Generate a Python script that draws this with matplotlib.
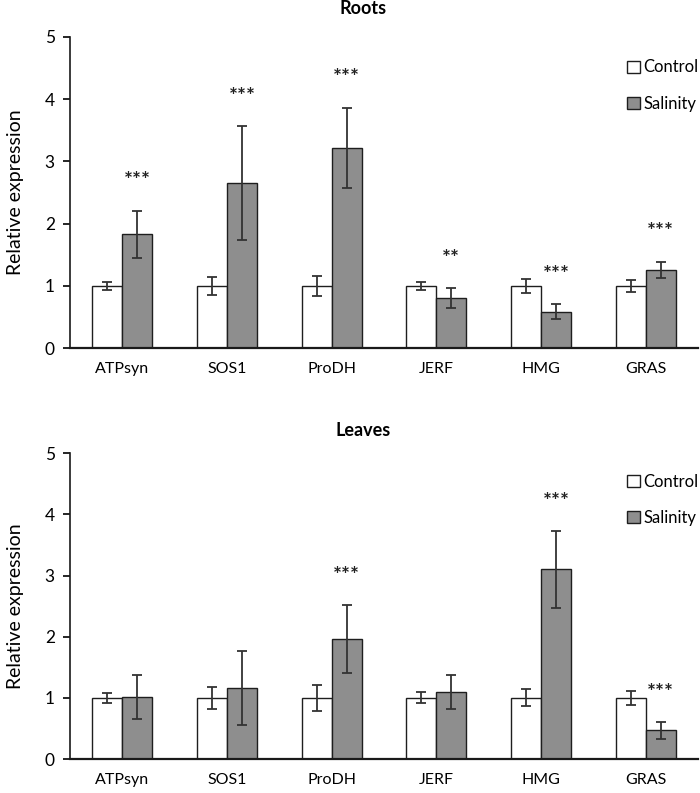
import matplotlib
matplotlib.use("Agg")
import matplotlib.pyplot as plt
from matplotlib.patches import Patch
import numpy as np

plt.rcParams['font.family'] = ['Lato', 'DejaVu Sans']

genes = ["ATPsyn", "SOS1", "ProDH", "JERF", "HMG", "GRAS"]

roots_control = [1.00, 1.00, 1.00, 1.00, 1.00, 1.00]
roots_control_err = [0.06, 0.15, 0.16, 0.07, 0.11, 0.09]
roots_salinity = [1.83, 2.65, 3.22, 0.81, 0.59, 1.26]
roots_salinity_err = [0.38, 0.92, 0.64, 0.16, 0.12, 0.13]
roots_stars = ["***", "***", "***", "**", "***", "***"]

leaves_control = [1.00, 1.00, 1.00, 1.00, 1.00, 1.00]
leaves_control_err = [0.08, 0.18, 0.21, 0.09, 0.14, 0.12]
leaves_salinity = [1.02, 1.16, 1.96, 1.10, 3.10, 0.47]
leaves_salinity_err = [0.36, 0.61, 0.56, 0.28, 0.63, 0.14]
leaves_stars = ["", "", "***", "", "***", "***"]

titles = ["Roots", "Leaves"]
legend_labels = ["Control", "Salinity"]

W, H = 700, 793
fig = plt.figure(figsize=(W / 100, H / 100), dpi=100)

def px_rect(x0, x1, ytop, ybot):
    return [x0 / W, 1 - ybot / H, (x1 - x0) / W, (ybot - ytop) / H]

ax_top = fig.add_axes(px_rect(70, 698, 36.7, 348.3))
ax_bot = fig.add_axes(px_rect(70, 698, 453.3, 759))

sal_color = "#8e8e8e"
edge = "#1e1e1e"
err_color = "#333333"
bw = 0.287

panels = [
    (ax_top, roots_control, roots_control_err, roots_salinity, roots_salinity_err, roots_stars, titles[0], 9, 85.5),
    (ax_bot, leaves_control, leaves_control_err, leaves_salinity, leaves_salinity_err, leaves_stars, titles[1], 431, 500),
]

x = np.arange(len(genes))
for ax, c, ce, s, se, stars, title, ty, legy in panels:
    ax.bar(x - bw / 2, c, bw, yerr=ce, color="white", edgecolor=edge, linewidth=1.0,
           error_kw=dict(ecolor=err_color, elinewidth=1.3, capsize=3.5, capthick=1.3), zorder=2)
    ax.bar(x + bw / 2, s, bw, yerr=se, color=sal_color, edgecolor=edge, linewidth=1.0,
           error_kw=dict(ecolor=err_color, elinewidth=1.3, capsize=3.5, capthick=1.3), zorder=2)
    for i, st in enumerate(stars):
        if st:
            ax.text(x[i] + bw / 2, s[i] + se[i] + 0.47, st, ha="center", va="center",
                    fontsize=15, fontweight="bold", color="#222222")
    ax.set_xlim(-0.5, len(genes) - 0.5)
    ax.set_ylim(0, 5)
    ax.set_yticks([0, 1, 2, 3, 4, 5])
    ax.set_xticks(x)
    ax.set_xticklabels(genes, fontsize=11.5)
    ax.tick_params(axis="x", length=0, pad=10)
    ax.tick_params(axis="y", direction="out", length=5, width=1.2, labelsize=12.5, pad=6)
    for sp in ["top", "right"]:
        ax.spines[sp].set_visible(False)
    ax.spines["left"].set_linewidth(1.2)
    ax.spines["bottom"].set_linewidth(1.6)
    ax.spines["left"].set_color("#1a1a1a")
    ax.spines["bottom"].set_color("#1a1a1a")
    ax.set_ylabel("Relative expression", fontsize=14, va="center")
    ax.yaxis.set_label_coords(-0.087, 0.5)
    fig.text(363 / W, 1 - ty / H, title, ha="center", va="center", fontsize=13, fontweight="bold")
    handles = [Patch(facecolor="white", edgecolor=edge, linewidth=1.0),
               Patch(facecolor=sal_color, edgecolor=edge, linewidth=1.0)]
    fig.legend(handles, legend_labels, loc="center left", bbox_to_anchor=(627 / W, 1 - legy / H),
               frameon=False, fontsize=12, handlelength=0.75, handleheight=0.75,
               handletextpad=0.25, labelspacing=1.2, borderpad=0, borderaxespad=0)

fig.savefig("out.png", dpi=100)
